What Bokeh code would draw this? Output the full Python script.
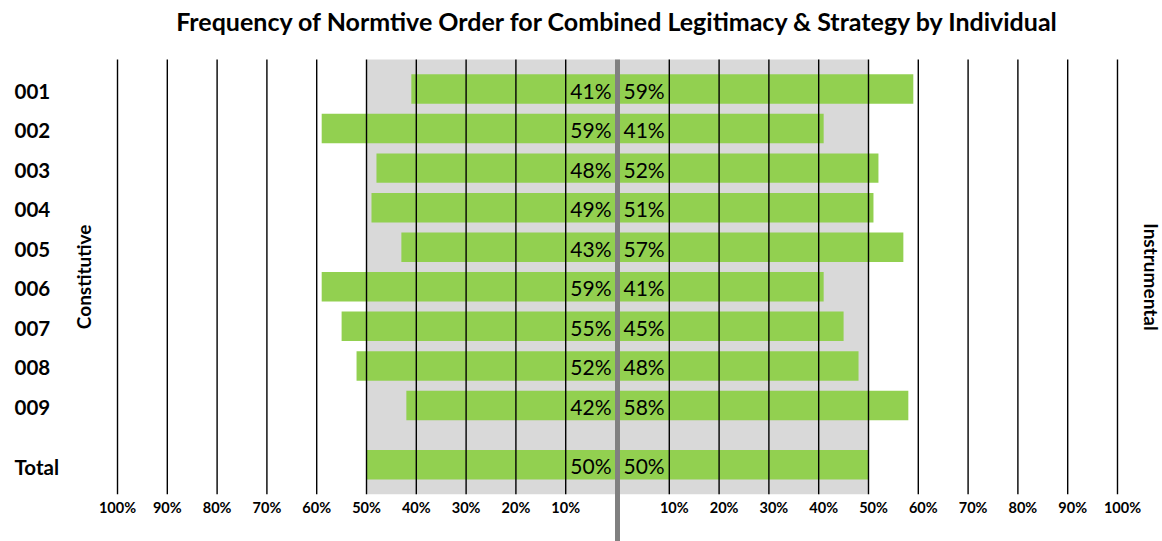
import math
from bokeh.plotting import figure
from bokeh.models import Range1d, ColumnDataSource, Label
from bokeh.core.properties import value
from bokeh.embed import file_html
from bokeh.resources import INLINE

# ---------------- data ----------------
TITLE = "Frequency of Normtive Order for Combined Legitimacy & Strategy by Individual"
categories = ["001", "002", "003", "004", "005", "006", "007", "008", "009", "Total"]
constitutive = [41, 59, 48, 49, 43, 59, 55, 52, 42, 50]
instrumental = [59, 41, 52, 51, 57, 41, 45, 48, 58, 50]
tick_values = [10, 20, 30, 40, 50, 60, 70, 80, 90, 100]
left_name = "Constitutive"
right_name = "Instrumental"

# ---------------- layout / style ----------------
W, H = 1162, 541
ORIGIN = 0                # page offset of the canvas
PX_PER_UNIT = 4.98
CENTER_PX = 617.0
GAP = 0.4                 # half gap between the two halves (in % units)
ROW_PX = 39.56
FIRST_ROW_PX = 88.5
TOTAL_STEP = 1.5          # extra spacing before the Total row
BAR_H = 0.745
GRID_PAD = 0.745          # grid / band extends this far beyond first & last rows
SHADE = 50                # shaded band +-50%
FONT = "Lato"
GREEN = "#92D050"
GRAY_BG = "#D9D9D9"
MID_LINE = "#808080"

x_start = -CENTER_PX / PX_PER_UNIT
x_end = (W - CENTER_PX) / PX_PER_UNIT
y_top = -FIRST_ROW_PX / ROW_PX
y_bottom = (H - FIRST_ROW_PX) / ROW_PX

def px_to_y(page_y):
    return (page_y - ORIGIN - FIRST_ROW_PX) / ROW_PX

def px_to_x(page_x):
    return (page_x - ORIGIN - CENTER_PX) / PX_PER_UNIT

n = len(categories)
ypos = [float(i) for i in range(n - 1)] + [n - 2 + TOTAL_STEP]
grid_top = ypos[0] - GRID_PAD
grid_bot = ypos[-1] + GRID_PAD

p = figure(width=W, height=H, output_backend="svg", toolbar_location=None,
           x_range=Range1d(x_start, x_end), y_range=Range1d(y_bottom, y_top),
           min_border=0, outline_line_color=None)
p.axis.visible = False
p.grid.visible = False
p.background_fill_color = "white"
p.border_fill_color = "white"

# shaded band
p.quad(left=[-(SHADE + GAP)], right=[SHADE + GAP], top=[grid_top], bottom=[grid_bot],
       fill_color=GRAY_BG, line_color=None)

src = ColumnDataSource(dict(
    y=ypos,
    cat=categories,
    lab_x=[px_to_x(14)] * n,
    cl=[-(v + GAP) for v in constitutive],
    cr=[-GAP] * n,
    il=[GAP] * n,
    ir=[v + GAP for v in instrumental],
    ctxt=[f"{v}%" for v in constitutive],
    itxt=[f"{v}%" for v in instrumental],
))

p.hbar(y="y", left="cl", right="cr", height=BAR_H, source=src, fill_color=GREEN, line_color=None)
p.hbar(y="y", left="il", right="ir", height=BAR_H, source=src, fill_color=GREEN, line_color=None)

# grid lines
gx = [-(t + GAP) for t in tick_values] + [t + GAP for t in tick_values]
p.segment(x0=gx, x1=gx, y0=[grid_top] * len(gx), y1=[grid_bot] * len(gx),
          line_color="black", line_width=1.4)

# center line
p.segment(x0=[0], x1=[0], y0=[grid_top], y1=[y_bottom + 1], line_color=MID_LINE, line_width=5)

# value labels
p.text(x="cr", y="y", text="ctxt", source=src, text_align="right", text_baseline="middle",
       x_offset=-4, y_offset=1, text_font=value(FONT), text_font_size="21px", text_color="black")
p.text(x="il", y="y", text="itxt", source=src, text_align="left", text_baseline="middle",
       x_offset=4, y_offset=1, text_font=value(FONT), text_font_size="21px", text_color="black")

# category labels
p.text(x="lab_x", y="y", text="cat", source=src, text_align="left",
       text_baseline="middle", y_offset=2, text_font=value(FONT), text_font_size="20.5px",
       text_font_style="bold", text_color="black")

# tick labels
ty = px_to_y(507)
p.text(x=[-(t + GAP) for t in tick_values], y=[ty] * len(tick_values),
       text=[f"{t}%" for t in tick_values], text_align="center", text_baseline="middle",
       text_font=value(FONT), text_font_size="14.5px", text_font_style="bold", text_color="black")
p.text(x=[t + GAP for t in tick_values], y=[ty] * len(tick_values),
       text=[f"{t}%" for t in tick_values], text_align="center", text_baseline="middle",
       x_offset=5, text_font=value(FONT), text_font_size="14.5px", text_font_style="bold",
       text_color="black")

# side titles
mid_y = (ypos[0] + ypos[-1]) / 2
p.text(x=[px_to_x(83)], y=[mid_y], text=[left_name], angle=math.pi / 2, text_align="center",
       text_baseline="middle", text_font=value(FONT), text_font_size="19px",
       text_font_style="bold", text_color="black")
p.text(x=[px_to_x(1151)], y=[mid_y], text=[right_name], angle=-math.pi / 2, text_align="center",
       text_baseline="middle", text_font=value(FONT), text_font_size="19px",
       text_font_style="bold", text_color="black")

# title
p.text(x=[px_to_x(618)], y=[px_to_y(20)], text=[TITLE], text_align="center",
       text_baseline="middle", text_font=value(FONT), text_font_size="25px",
       text_font_style="bold", text_color="black")

open("out.html", "w").write(file_html(p, INLINE))
